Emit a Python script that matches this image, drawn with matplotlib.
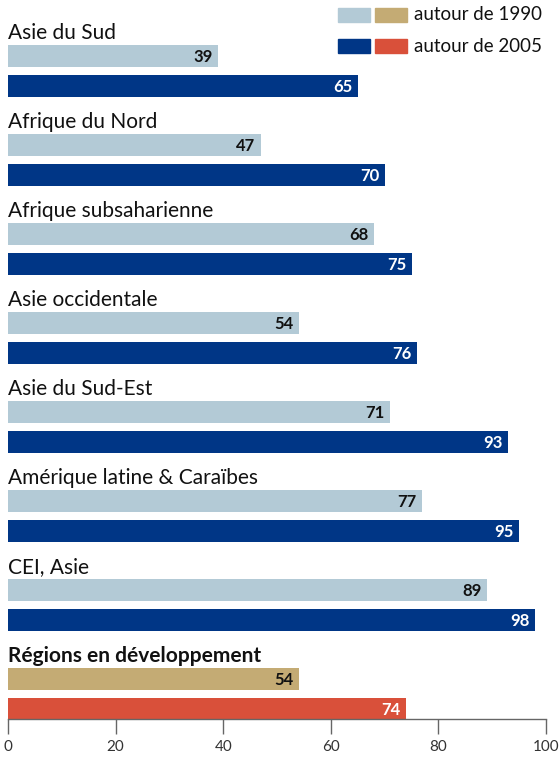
import numpy as np
import matplotlib.pyplot as plt

regions = ['Asie du Sud', 'Afrique du Nord', 'Afrique subsaharienne', 'Asie occidentale',
           'Asie du Sud-Est', 'Amérique latine & Caraïbes', 'CEI, Asie', 'Régions en développement']
v1990 = [39, 47, 68, 54, 71, 77, 89, 54]
v2005 = [65, 70, 75, 76, 93, 95, 98, 74]
ticks = [0, 20, 40, 60, 80, 100]

c90 = '#b3cad6'
c05 = '#003686'
c90_tot = '#c4ab74'
c05_tot = '#d9503a'

plt.rcParams['font.family'] = ['Lato', 'DejaVu Sans']

fig = plt.figure(figsize=(5.59, 7.57), dpi=100)
W, H = 559, 757
ax = fig.add_axes([8 / W, 1 - 719 / H, 538 / W, 719 / H])

step = 89.0
bh = 22 / step
off = 30 / step
n = len(regions)
y = np.arange(n)

cols90 = [c90] * (n - 1) + [c90_tot]
cols05 = [c05] * (n - 1) + [c05_tot]
ax.barh(y, v1990, height=bh, color=cols90, align='center')
ax.barh(y + off, v2005, height=bh, color=cols05, align='center')

for i in range(n):
    bold = i == n - 1
    ax.text(0, i - 23 / step, regions[i], fontsize=15, va='center', ha='left',
            fontweight='bold' if bold else 'normal', color='#111111')
    ax.text(v1990[i] - 1.0, i + 1 / step, str(v1990[i]), fontsize=12, fontweight='bold',
            va='center', ha='right', color='#111111')
    ax.text(v2005[i] - 1.0, i + off + 1 / step, str(v2005[i]), fontsize=12, fontweight='bold',
            va='center', ha='right', color='white')

ax.set_xlim(0, 100)
ax.set_ylim((719 - 56) / step, -56 / step)
ax.set_xticks(ticks)
ax.set_xticklabels([str(t) for t in ticks], fontsize=11, color='#333333')
ax.tick_params(axis='x', length=11, width=1, color='#666666', pad=4)
ax.set_yticks([])
for s in ['top', 'right', 'left']:
    ax.spines[s].set_visible(False)
ax.spines['bottom'].set_color('#666666')
ax.spines['bottom'].set_linewidth(1)

# legend drawn in figure coords
for row, (ca, cb, lab) in enumerate([(c90, c90_tot, 'autour de 1990'), (c05, c05_tot, 'autour de 2005')]):
    top = 8 + row * 31
    fig.patches.append(plt.Rectangle((338 / W, 1 - (top + 14) / H), 32 / W, 14 / H,
                                     transform=fig.transFigure, color=ca))
    fig.patches.append(plt.Rectangle((375 / W, 1 - (top + 14) / H), 32 / W, 14 / H,
                                     transform=fig.transFigure, color=cb))
    fig.text(414 / W, 1 - (top + 7) / H, lab, fontsize=13.5, va='center', ha='left', color='#111111')

fig.savefig('out.png', dpi=100)
